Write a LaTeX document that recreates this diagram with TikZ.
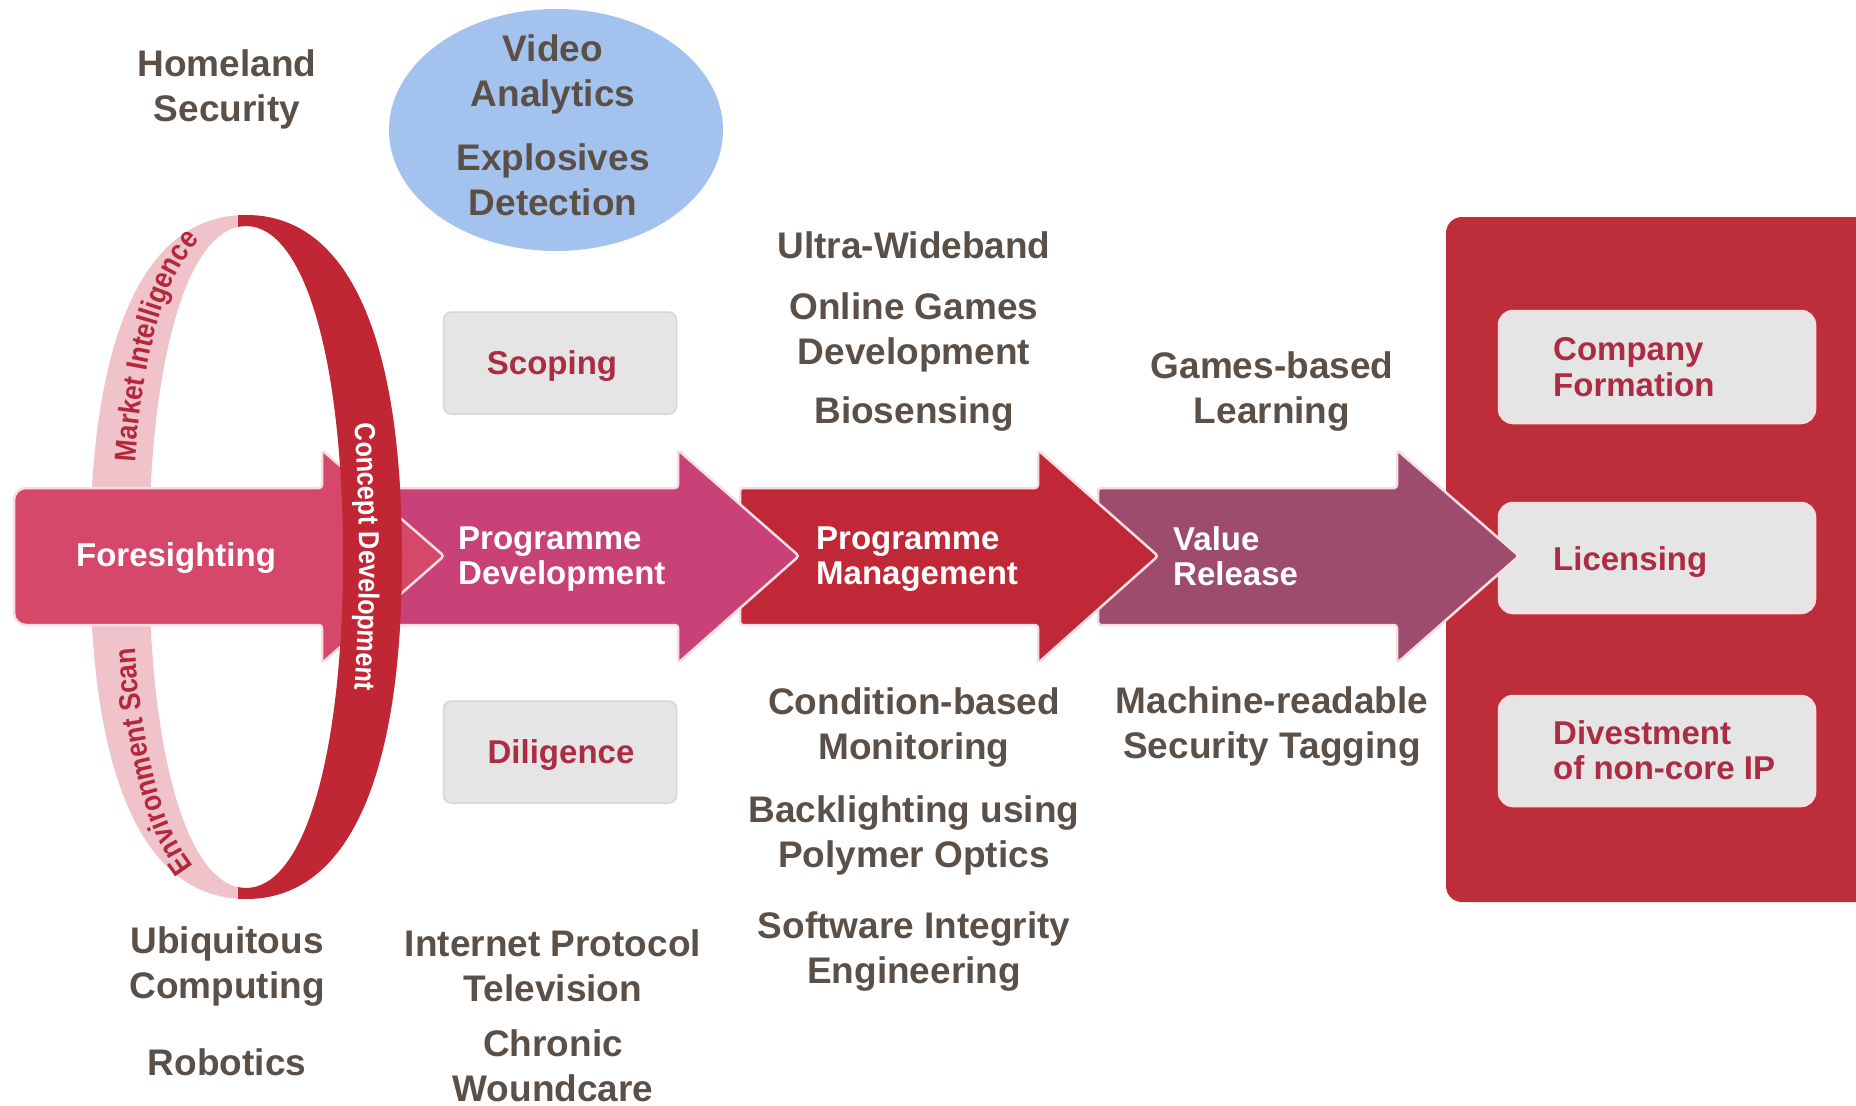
\documentclass[tikz,border=0pt]{standalone}
\usepackage{fontspec}
\setmainfont{Liberation Sans}
\newfontfamily\narrowfont{Liberation Sans}[FakeStretch=0.87]
\usetikzlibrary{decorations.text,shapes.geometric}
\definecolor{txtgray}{RGB}{91,80,72}
\definecolor{foresight}{RGB}{214,72,106}
\definecolor{progdev}{RGB}{200,66,120}
\definecolor{progman}{RGB}{192,40,56}
\definecolor{valrel}{RGB}{158,76,110}
\definecolor{panelred}{RGB}{190,46,58}
\definecolor{ringred}{RGB}{192,38,52}
\definecolor{ringtext}{RGB}{178,40,60}
\definecolor{ringpink}{RGB}{240,194,202}
\definecolor{boxgray}{RGB}{229,229,229}
\definecolor{boxedge}{RGB}{214,214,214}
\definecolor{boxtext}{RGB}{172,44,68}
\definecolor{blueell}{RGB}{163,194,238}
\definecolor{edgepink}{RGB}{248,222,226}
\begin{document}
\begin{tikzpicture}[x=1pt,y=-1pt,
  outlabel/.style={font=\fontsize{37}{45}\selectfont\bfseries, text=txtgray, align=center, inner sep=0pt},
  arrowlabel/.style={font=\fontsize{33}{35.5}\selectfont\bfseries, text=white, align=left, inner sep=0pt, anchor=west},
  graybox/.style={fill=boxgray, draw=boxedge, line width=1.5pt, rounded corners=8pt, inner sep=0pt},
  panelbox/.style={fill=boxgray, draw=edgepink, line width=2.5pt, rounded corners=14pt, inner sep=0pt},
  boxlabel/.style={font=\fontsize{33}{35.5}\selectfont\bfseries, text=boxtext, align=left, inner sep=0pt},
  stagearrow/.style={draw=edgepink, line width=2.5pt, rounded corners=3pt, line join=round},
]
\useasboundingbox (0,0) rectangle (1856,1106);
\clip (0,0) rectangle (1856,1106);

% right panel
\fill[panelred, rounded corners=16pt] (1446,217) rectangle (1890,902);
\node[panelbox, minimum width=316pt, minimum height=112pt] (company) at (1657,367) {};
\node[panelbox, minimum width=316pt, minimum height=110pt] (licensing) at (1657,558) {};
\node[panelbox, minimum width=316pt, minimum height=110pt] (divest) at (1657,751) {};
\node[boxlabel, anchor=west] (companytxt) at (1553,367) {Company\\Formation};
\node[boxlabel, anchor=west] (licensingtxt) at (1553,562) {Licensing};
\node[boxlabel, anchor=west] (divesttxt) at (1553,750) {Divestment\\of non-core IP};

% scoping / diligence boxes
\node[graybox, minimum width=233pt, minimum height=102pt] (scoping) at (560,363) {};
\node[boxlabel] (scopingtxt) at (552,366) {Scoping};
\node[graybox, minimum width=233pt, minimum height=102pt] (diligence) at (560,752) {};
\node[boxlabel] (diligencetxt) at (561,755) {Diligence};

% ring: back (pink) band
\fill[ringpink, even odd rule]
  (246,215) .. controls (347.4,215) and (402,334.7) .. (402,557)
            .. controls (402,779.3) and (347.4,899) .. (246,899)
            .. controls (144.6,899) and (90,779.3) .. (90,557)
            .. controls (90,334.7) and (144.6,215) .. (246,215) -- cycle
  (246,226) .. controls (304.2,226) and (343,358.4) .. (343,557)
            .. controls (343,755.6) and (304.2,888) .. (246,888)
            .. controls (187.8,888) and (149,755.6) .. (149,557)
            .. controls (149,358.4) and (187.8,226) .. (246,226) -- cycle;

% stage arrows (right ones first)
\path[stagearrow, fill=valrel] (1098,488) -- (1397,488) -- (1397,450) -- (1519,556) -- (1397,663) -- (1397,625) -- (1098,625) -- cycle;
\path[stagearrow, fill=progman] (740,488) -- (1038,488) -- (1038,450) -- (1158,556) -- (1038,663) -- (1038,625) -- (740,625) -- cycle;
\path[stagearrow, fill=progdev] (395,488) -- (678,488) -- (678,450) -- (799,556) -- (678,663) -- (678,625) -- (395,625) -- cycle;
\path[stagearrow, fill=foresight] (14,556) [rounded corners=12pt] -- (14,488) -- (200,488) [rounded corners=3pt]
  -- (322,488) -- (322,450) -- (444,556) -- (322,663) -- (322,625) -- (200,625)
  [rounded corners=12pt] -- (14,625) [sharp corners] -- cycle;

% ring: front (dark red) band
\begin{scope}
  \clip (238,0) rectangle (470,1106);
  \fill[ringred, even odd rule]
  (246,215) .. controls (347.4,215) and (402,334.7) .. (402,557)
            .. controls (402,779.3) and (347.4,899) .. (246,899)
            .. controls (144.6,899) and (90,779.3) .. (90,557)
            .. controls (90,334.7) and (144.6,215) .. (246,215) -- cycle
  (246,226) .. controls (304.2,226) and (343,358.4) .. (343,557)
            .. controls (343,755.6) and (304.2,888) .. (246,888)
            .. controls (187.8,888) and (149,755.6) .. (149,557)
            .. controls (149,358.4) and (187.8,226) .. (246,226) -- cycle;
\end{scope}

% ring texts
\path[decorate, decoration={text along path, text align={left indent=95pt},
   text={|\narrowfont\fontsize{30}{30}\selectfont\bfseries\color{ringtext}|Market Intelligence}}]
  (132,557) .. controls (132,345.3) and (174.4,219) .. (246,219);
\path[decorate, decoration={text along path, text align={left indent=62pt},
   text={|\narrowfont\fontsize{30}{30}\selectfont\bfseries\color{ringtext}|Environment Scan}}]
  (246,895) .. controls (174.4,895) and (132,768.7) .. (132,557);
\path[decorate, decoration={text along path, text align=center,
   text={|\narrowfont\fontsize{29}{29}\selectfont\bfseries\color{white}|Concept Development}}]
  ([shift={(24:113pt and 466pt)}]246,557) arc[start angle=24, end angle=-24, x radius=113pt, y radius=466pt];

% arrow labels
\node[arrowlabel, anchor=center] (foretxt) at (176,558) {Foresighting};
\node[arrowlabel] (pdtxt) at (458,559) {Programme\\Development};
\node[arrowlabel] (pmtxt) at (816,559) {Programme\\Management};
\node[arrowlabel] (vrtxt) at (1173,556) {Value\\Release};

% blue ellipse
\node[ellipse, fill=blueell, minimum width=334pt, minimum height=242pt, inner sep=0pt] (threat) at (556,130) {};

% outer labels
\node[outlabel] (homeland) at (227,89) {Homeland\\Security};
\node[outlabel] (video) at (553,74) {Video\\Analytics};
\node[outlabel] (explosives) at (553,180) {Explosives\\Detection};
\node[outlabel] (uwb) at (914,245) {Ultra-Wideband};
\node[outlabel] (online) at (914,332) {Online Games\\Development};
\node[outlabel] (bio) at (914,414) {Biosensing};
\node[outlabel] (gbl) at (1272,392) {Games-based\\Learning};
\node[outlabel] (cbm) at (914,728) {Condition-based\\Monitoring};
\node[outlabel] (backlight) at (914,835) {Backlighting using\\Polymer Optics};
\node[outlabel] (software) at (914,952) {Software Integrity\\Engineering};
\node[outlabel] (mrst) at (1272,727) {Machine-readable\\Security Tagging};
\node[outlabel] (ubi) at (227,967) {Ubiquitous\\Computing};
\node[outlabel] (robotics) at (227,1062) {Robotics};
\node[outlabel] (iptv) at (553,966) {Internet Protocol\\Television};
\node[outlabel] (chronic) at (553,1066) {Chronic\\Woundcare};
\end{tikzpicture}
\end{document}
